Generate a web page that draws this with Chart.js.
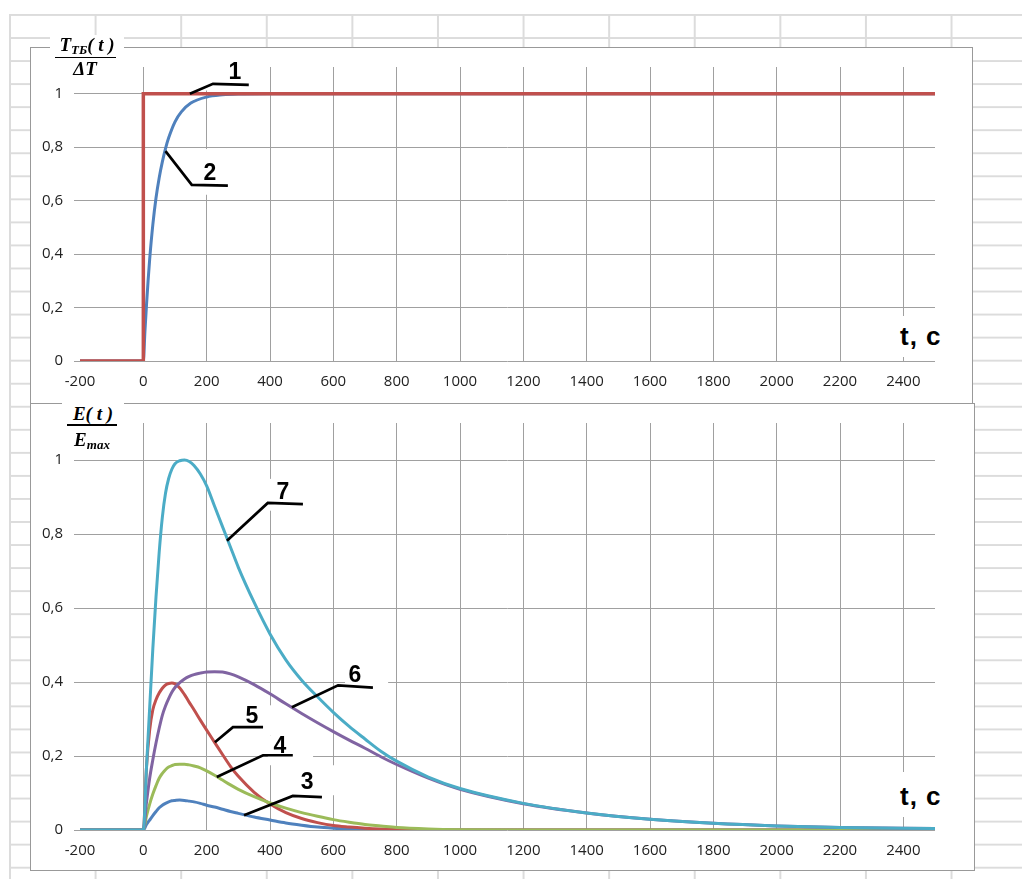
<!DOCTYPE html>
<html>
<head>
<meta charset="utf-8">
<script src="https://cdn.jsdelivr.net/npm/chart.js@4.4.0/dist/chart.umd.min.js"></script>
<style>
    html, body { margin: 0; padding: 0; background: #fff; }
    body { width: 1022px; height: 879px; position: relative; overflow: hidden; }
    .sheet {
        position: absolute; left: 9px; top: 14px; right: 0; bottom: 0;
        background-image:
            linear-gradient(to right, #dcdcdc 0, #dcdcdc 2px, transparent 2px),
            linear-gradient(to bottom, #dcdcdc 0, #dcdcdc 2px, transparent 2px);
        background-size: 85.6px 100%, 100% 23.05px;
    }
    .frame { position: absolute; background: #fff; border: 1px solid #999; box-sizing: border-box; }
    .holder { position: absolute; }
    .holder canvas { display: block; }
    .ttl {
        position: absolute; text-align: center; color: #000;
        font-family: 'Liberation Serif', 'Times New Roman', serif;
        font-weight: bold; font-style: italic; font-size: 19px; line-height: 19px;
        white-space: nowrap;
    }
    .ttl sub { font-size: 13px; vertical-align: -3px; line-height: 0; }
    .bg { background: #fff; }
    .bar { position: absolute; height: 1.5px; background: #000; }
    .unit {
        position: absolute; background: #fff; color: #000;
        font-family: 'Liberation Sans', Arial, sans-serif; font-weight: bold;
        font-size: 26px; line-height: 26px; letter-spacing: 1px; white-space: nowrap;
    }
</style>
</head>
<body>
<div class="sheet"></div>

<div class="frame" style="left:30px; top:47px; width:943px; height:357px;"></div>
<div class="frame" style="left:30px; top:403px; width:945px; height:468px;"></div>

<div class="holder" style="left:30px; top:47px;"><canvas id="topChart" width="942" height="356"></canvas></div>
<div class="holder" style="left:30px; top:403px;"><canvas id="bottomChart" width="944" height="467"></canvas></div>

<!-- axis titles -->
<div class="ttl bg" style="left:50px; top:35px; width:74px; height:21px;">T<sub>ТБ</sub>( t )</div>
<div class="bar" style="left:55px; top:56.5px; width:61px;"></div>
<div class="ttl" style="left:50px; top:59px; width:70px;">ΔT</div>

<div class="ttl bg" style="left:62px; top:398px; width:62px; height:22px; padding-top:6px; box-sizing:content-box;">E( t )</div>
<div class="bar" style="left:67px; top:424px; width:50px;"></div>
<div class="ttl" style="left:57px; top:430px; width:70px;">E<sub>max</sub></div>

<div class="unit" style="left:894px; top:316px; width:52px; height:41px; padding-left:6px; box-sizing:border-box;"><span style="position:relative; top:7px;">t, c</span></div>
<div class="unit" style="left:894px; top:772px; width:52px; height:45px; padding-left:6px; box-sizing:border-box;"><span style="position:relative; top:11px;">t, c</span></div>

<script>
// Axis ticks
const xTicks = [-200, 0, 200, 400, 600, 800, 1000, 1200, 1400, 1600, 1800, 2000, 2200, 2400];
const yTicks = [0, 0.2, 0.4, 0.6, 0.8, 1];

// Top chart: 1 - step, 2 - response
const stepT = [-200, 0, 0, 2500];
const stepV = [0, 0, 1, 1];
const riseT = [-200, 0, 5, 10, 15, 20, 30, 40, 50, 60, 70, 80, 100, 120, 150, 200, 250, 300, 400, 2500];
const riseV = [0, 0, 0.11, 0.21, 0.3, 0.38, 0.51, 0.61, 0.685, 0.745, 0.795, 0.835, 0.895, 0.932, 0.965, 0.988, 0.996, 0.999, 1, 1];

// Bottom chart: curves 3..7 on a common time grid
const timeT = [-200, 0, 10, 20, 30, 40, 50, 60, 70, 80, 90, 100, 115, 130, 145, 160, 180, 200, 225, 250, 275, 300,
    350, 400, 450, 500, 550, 600, 650, 700, 750, 800, 900, 1000, 1200, 1400, 1600, 1800, 2000, 2200, 2500];
const curve3 = [0, 0, 0.015, 0.027, 0.039, 0.05, 0.06, 0.067, 0.072, 0.076, 0.079, 0.08, 0.081, 0.08, 0.078, 0.076, 0.072, 0.067, 0.062, 0.056, 0.05, 0.045,
    0.035, 0.027, 0.019, 0.013, 0.008, 0.005, 0.003, 0.002, 0.001, 0.001, 0, 0, 0, 0, 0, 0, 0, 0, 0];
const curve4 = [0, 0, 0.038, 0.07, 0.097, 0.12, 0.14, 0.153, 0.163, 0.17, 0.174, 0.177, 0.178, 0.178, 0.176, 0.173, 0.168, 0.16, 0.148, 0.135, 0.122, 0.11,
    0.09, 0.073, 0.059, 0.047, 0.037, 0.028, 0.021, 0.015, 0.011, 0.007, 0.003, 0.001, 0, 0, 0, 0, 0, 0, 0];
const curve5 = [0, 0, 0.17, 0.27, 0.325, 0.352, 0.37, 0.383, 0.392, 0.396, 0.397, 0.395, 0.384, 0.366, 0.345, 0.325, 0.297, 0.27, 0.237, 0.204, 0.172, 0.145,
    0.102, 0.07, 0.047, 0.031, 0.02, 0.012, 0.008, 0.005, 0.003, 0.002, 0.001, 0, 0, 0, 0, 0, 0, 0, 0];
const curve6 = [0, 0, 0.075, 0.14, 0.19, 0.235, 0.275, 0.31, 0.335, 0.355, 0.372, 0.385, 0.398, 0.408, 0.415, 0.42, 0.424, 0.427, 0.428, 0.427, 0.422, 0.414,
    0.393, 0.368, 0.341, 0.315, 0.29, 0.266, 0.243, 0.221, 0.198, 0.177, 0.14, 0.11, 0.071, 0.046, 0.029, 0.018, 0.011, 0.007, 0.004];
const curve7 = [0, 0, 0.17, 0.33, 0.49, 0.63, 0.75, 0.845, 0.91, 0.95, 0.975, 0.99, 0.998, 1.0, 0.996, 0.985, 0.962, 0.93, 0.875, 0.82, 0.765, 0.71,
    0.615, 0.53, 0.46, 0.405, 0.36, 0.318, 0.28, 0.246, 0.213, 0.186, 0.143, 0.112, 0.072, 0.046, 0.029, 0.018, 0.011, 0.007, 0.004];

// Curve numbers with leader lines (data units)
const topNotes = [
    { text: '1', at: [289, 1.078], leader: [[147, 1.0], [220, 1.037], [333, 1.033]], box: [166, 362, 1.012, 1.11] },
    { text: '2', at: [210, 0.7], leader: [[70, 0.785], [153, 0.659], [267, 0.656]], box: [163, 305, 0.622, 0.793] }
];
const bottomNotes = [
    { text: '7', at: [441, 0.911], leader: [[264, 0.782], [393, 0.884], [504, 0.881]], box: [374, 532, 0.863, 0.949] },
    { text: '6', at: [668, 0.418], leader: [[469, 0.332], [615, 0.391], [725, 0.385]], box: [637, 773, 0.377, 0.453] },
    { text: '5', at: [343, 0.305], leader: [[226, 0.237], [283, 0.278], [378, 0.278]], box: [305, 416, 0.256, 0.337] },
    { text: '4', at: [431, 0.224], leader: [[232, 0.143], [378, 0.202], [472, 0.202]], box: [393, 536, 0.175, 0.256] },
    { text: '3', at: [517, 0.127], leader: [[318, 0.04], [472, 0.092], [564, 0.089]], box: [479, 621, 0.094, 0.175] }
];

const gridColor = '#a0a0a0';

Chart.defaults.font.family = "'Open Sans', sans-serif";
Chart.defaults.font.size = 15;
Chart.defaults.color = '#222';

function toPoints(ts, vs) {
    return ts.map((t, i) => ({ x: t, y: vs[i] }));
}

// Draws white boxes under the numbers and the leader lines on top
function noteLayer(notes) {
    return {
        id: 'notes',
        beforeDatasetsDraw(chart) {
            const { ctx, scales: { x, y } } = chart;
            ctx.save();
            ctx.fillStyle = '#fff';
            notes.forEach(n => {
                const x1 = x.getPixelForValue(n.box[0]);
                const x2 = x.getPixelForValue(n.box[1]);
                const y1 = y.getPixelForValue(n.box[3]);
                const y2 = y.getPixelForValue(n.box[2]);
                ctx.fillRect(x1, y1, x2 - x1, y2 - y1);
            });
            ctx.restore();
        },
        afterDatasetsDraw(chart) {
            const { ctx, scales: { x, y } } = chart;
            ctx.save();
            ctx.strokeStyle = '#000';
            ctx.lineWidth = 2.7;
            notes.forEach(n => {
                ctx.beginPath();
                n.leader.forEach((p, i) => {
                    const px = x.getPixelForValue(p[0]);
                    const py = y.getPixelForValue(p[1]);
                    if (i === 0) ctx.moveTo(px, py); else ctx.lineTo(px, py);
                });
                ctx.stroke();
            });
            ctx.fillStyle = '#000';
            ctx.font = "bold 23px 'Liberation Sans', Arial, sans-serif";
            ctx.textAlign = 'center';
            ctx.textBaseline = 'middle';
            notes.forEach(n => {
                ctx.fillText(n.text, x.getPixelForValue(n.at[0]), y.getPixelForValue(n.at[1]));
            });
            ctx.restore();
        }
    };
}

function buildChart(canvasId, datasets, notes, topPad, rightPad, xAxisHeight) {
    return new Chart(document.getElementById(canvasId), {
        type: 'line',
        data: { datasets: datasets },
        options: {
            responsive: false,
            animation: false,
            devicePixelRatio: 1,
            layout: { padding: { top: topPad, right: rightPad, left: 0, bottom: 0 } },
            plugins: {
                legend: { display: false },
                tooltip: { enabled: false }
            },
            elements: {
                point: { radius: 0 },
                line: { borderWidth: 3 }
            },
            scales: {
                x: {
                    type: 'linear',
                    min: -200,
                    max: 2500,
                    afterBuildTicks: s => { s.ticks = xTicks.map(v => ({ value: v })); },
                    afterFit: s => { s.height = xAxisHeight; },
                    border: { display: false },
                    grid: {
                        color: c => (c.tick && c.tick.value === -200) ? 'rgba(0,0,0,0)' : gridColor,
                        drawTicks: false
                    },
                    ticks: { padding: 12, maxRotation: 0, autoSkip: false, callback: v => String(v) }
                },
                y: {
                    type: 'linear',
                    min: 0,
                    max: 1.1,
                    afterBuildTicks: s => { s.ticks = yTicks.map(v => ({ value: v })); },
                    afterFit: s => { s.width = 50; },
                    border: { display: false },
                    grid: { color: gridColor, tickLength: 6 },
                    ticks: { padding: 11, callback: v => String(v).replace('.', ',') }
                }
            }
        },
        plugins: [noteLayer(notes)]
    });
}

buildChart('topChart', [
    { data: toPoints(stepT, stepV), borderColor: '#c0504d', borderWidth: 3.5, tension: 0 },
    { data: toPoints(riseT, riseV), borderColor: '#4f81bd', cubicInterpolationMode: 'monotone' }
], topNotes, 17, 37, 42);

buildChart('bottomChart', [
    { data: toPoints(timeT, curve3), borderColor: '#4f81bd', cubicInterpolationMode: 'monotone', order: 5 },
    { data: toPoints(timeT, curve4), borderColor: '#9bbb59', cubicInterpolationMode: 'monotone', order: 3 },
    { data: toPoints(timeT, curve5), borderColor: '#c0504d', cubicInterpolationMode: 'monotone', order: 4 },
    { data: toPoints(timeT, curve6), borderColor: '#8064a2', cubicInterpolationMode: 'monotone', order: 2 },
    { data: toPoints(timeT, curve7), borderColor: '#4bacc6', cubicInterpolationMode: 'monotone', order: 1 }
], bottomNotes, 18, 39, 40);
</script>
</body>
</html>
